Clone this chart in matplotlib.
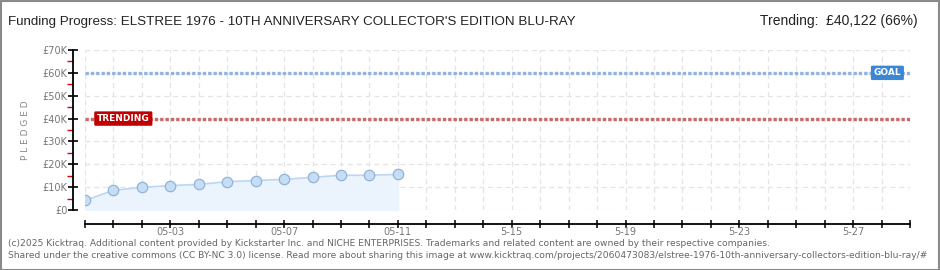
#!/usr/bin/env python3

import matplotlib
matplotlib.use("Agg")
import matplotlib.pyplot as plt
from matplotlib.patches import Rectangle

# Data (pledged amount in thousands of GBP per day)
days = list(range(0, 12))           # day 0 = 04-30
pledged_k = [4.2, 8.6, 9.9, 10.7, 11.2, 12.4, 12.9, 13.4, 14.3, 15.2, 15.2, 15.6]
goal_k = 60
trending_k = 40
last_day = 29

tick_days = [3, 7, 11, 15, 19, 23, 27]
tick_labels = ["05-03", "05-07", "05-11", "5-15", "5-19", "5-23", "5-27"]
y_ticks = [0, 10, 20, 30, 40, 50, 60, 70]
y_labels = ["£0", "£10K", "£20K", "£30K", "£40K", "£50K", "£60K", "£70K"]

TITLE = "Funding Progress: ELSTREE 1976 - 10TH ANNIVERSARY COLLECTOR'S EDITION BLU-RAY"
TREND_TXT = "Trending:  £40,122 (66%)"
FOOT1 = ("(c)2025 Kicktraq. Additional content provided by Kickstarter Inc. and NICHE ENTERPRISES. "
         "Trademarks and related content are owned by their respective companies.")
FOOT2 = ("Shared under the creative commons (CC BY-NC 3.0) license. Read more about sharing this image at "
         "www.kicktraq.com/projects/2060473083/elstree-1976-10th-anniversary-collectors-edition-blu-ray/#")

W, H = 940, 270
fig = plt.figure(figsize=(W / 100, H / 100), dpi=100)
fig.patch.set_facecolor("white")

# grey frame round the image
fig.add_artist(Rectangle((0.5 / W, 0.5 / H), 1 - 1.5 / W, 1 - 1.5 / H, transform=fig.transFigure,
                         fill=False, edgecolor="#8a8a8a", linewidth=1.5))

title_font = ["Liberation Sans", "DejaVu Sans"]
fig.text(8 / W, 1 - 22 / H, TITLE, fontsize=9.6, family=title_font, color="#222222", va="center")
fig.text(918 / W, 1 - 21 / H, TREND_TXT, fontsize=10, family=title_font, color="#222222",
         va="center", ha="right")

fig.text(8 / W, 1 - 243 / H, FOOT1, fontsize=6.6, color="#666666", va="center")
fig.text(8 / W, 1 - 256 / H, FOOT2, fontsize=6.6, color="#666666", va="center")

ax = fig.add_axes([85 / W, 60 / H, 825 / W, 160 / H])
ax.set_xlim(0, last_day)
ax.set_ylim(0, 70)

# grid
for d in range(0, last_day + 1):
    ax.axvline(d, color="#e4e4e4", linestyle=(0, (4, 3)), linewidth=0.9, zorder=0)
for v in y_ticks:
    ax.axhline(v, color="#e4e4e4", linestyle=(0, (4, 3)), linewidth=0.9, zorder=0)

# goal and trending lines
ax.axhline(goal_k, color="#8fb4e0", linestyle=(0, (1.0, 0.6)), linewidth=2.4, zorder=2)
ax.axhline(trending_k, color="#c96a6a", linestyle=(0, (1.0, 0.6)), linewidth=2.4, zorder=2)

# pledged series
ax.fill_between(days, pledged_k, 0, color="#ebf3fd", zorder=1)
ax.plot(days, pledged_k, color="#bcd7f3", linewidth=1.2, zorder=3)
ax.plot(days, pledged_k, "o", markersize=7.5, markerfacecolor="#c6ddf6",
        markeredgecolor="#93b3d6", markeredgewidth=0.9, zorder=4)

# labels on the reference lines
ax.text(0.42, trending_k, "TRENDING", color="white", fontsize=6.5, va="center", ha="left",
        fontweight="bold", zorder=5,
        bbox=dict(boxstyle="round,pad=0.3,rounding_size=0.15", facecolor="#c00000", edgecolor="none"))
ax.text(27.72, goal_k, "GOAL", color="white", fontsize=6.5, va="center", ha="left",
        fontweight="bold", zorder=5,
        bbox=dict(boxstyle="round,pad=0.3,rounding_size=0.15", facecolor="#3b87d6", edgecolor="none"))

# spines and ticks
for s in ("top", "right"):
    ax.spines[s].set_visible(False)
ax.spines["left"].set_position(("outward", 9))
ax.spines["bottom"].set_position(("outward", 10))
ax.spines["left"].set_linewidth(1.3)
ax.spines["bottom"].set_linewidth(1.3)

ax.set_yticks(y_ticks)
ax.set_yticklabels(y_labels)
ax.set_yticks([5, 15, 25, 35, 45, 55, 65], minor=True)
ax.tick_params(axis="y", which="major", direction="inout", length=7, width=1.2,
               labelsize=7, labelcolor="#777777", pad=0)
ax.tick_params(axis="y", which="minor", direction="out", length=4, width=1.0, color="#dd0000")

ax.set_xticks(range(0, last_day + 1), minor=True)
ax.set_xticks(tick_days)
ax.set_xticklabels(tick_labels)
ax.tick_params(axis="x", which="both", direction="inout", length=6, width=1.1,
               labelsize=7, labelcolor="#777777", pad=-1)

ax.set_ylabel("P L E D G E D", fontsize=6.5, color="#888888", labelpad=9)

fig.savefig("out.png", dpi=100)
